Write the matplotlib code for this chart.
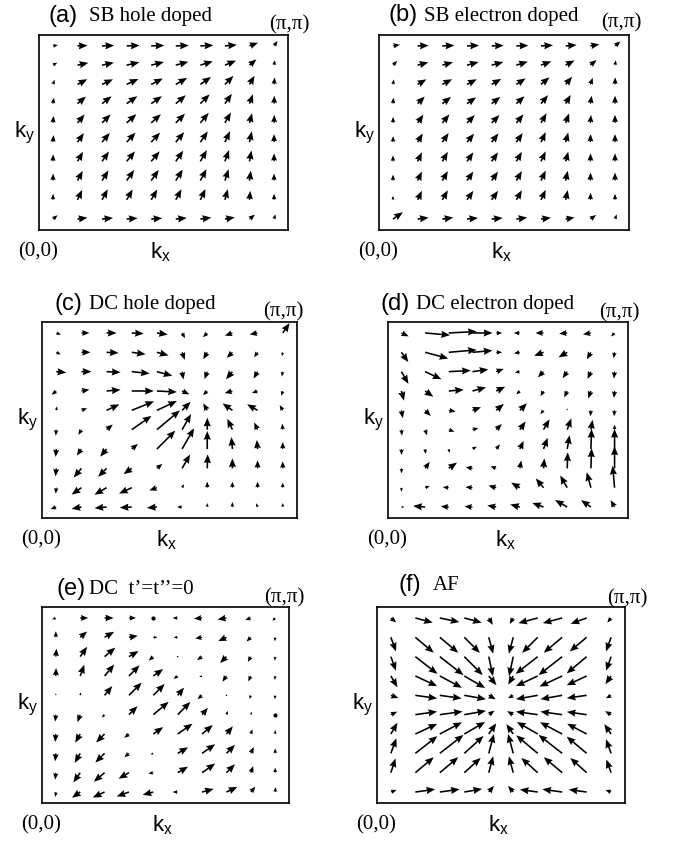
import numpy as np
import matplotlib
matplotlib.use('Agg')
import matplotlib.pyplot as plt

plt.rcParams['mathtext.default'] = 'regular'
SANS = ['Liberation Sans', 'DejaVu Sans']
SERIF = ['Liberation Serif', 'DejaVu Serif']

# ---------------- data: arrow angle (deg) and length (px), rows top -> bottom ----------------
a_ang = [[10, 2, 2, 2, 2, 2, 3, 5, 20, 55],
         [30, 12, 12, 13, 14, 15, 17, 22, 40, 80],
         [70, 28, 25, 25, 27, 30, 35, 45, 60, 85],
         [80, 40, 38, 35, 35, 40, 45, 55, 70, 88],
         [85, 50, 45, 42, 42, 45, 50, 60, 75, 88],
         [85, 55, 50, 47, 47, 50, 55, 65, 78, 90],
         [88, 60, 55, 50, 50, 55, 60, 70, 80, 90],
         [88, 62, 58, 55, 55, 58, 62, 72, 82, 90],
         [88, 65, 62, 60, 60, 62, 65, 75, 85, 90],
         [40, 8, 6, 5, 5, 6, 8, 10, 40, 75]]
a_len = [[5, 10, 12, 13, 13, 13, 13, 12, 9, 6],
         [5, 11, 12, 13, 13, 13, 13, 12, 9, 5],
         [5, 11, 12, 13, 13, 13, 13, 12, 10, 7],
         [6, 11, 12, 13, 13, 13, 13, 12, 10, 8],
         [7, 11, 12, 13, 13, 13, 13, 12, 10, 8],
         [7, 11, 12, 13, 13, 13, 13, 12, 11, 8],
         [7, 11, 12, 13, 13, 13, 13, 12, 11, 8],
         [7, 11, 12, 13, 13, 13, 13, 12, 10, 7],
         [6, 11, 12, 12, 12, 12, 12, 11, 9, 6],
         [6, 10, 11, 11, 11, 11, 11, 10, 7, 5]]

b_ang = [[10, 2, 2, 2, 2, 2, 3, 5, 10, 40],
         [45, 15, 15, 15, 15, 17, 20, 28, 40, 80],
         [80, 30, 28, 28, 30, 33, 40, 50, 70, 88],
         [85, 45, 38, 35, 38, 42, 50, 60, 80, 90],
         [88, 55, 50, 45, 45, 50, 60, 70, 85, 90],
         [88, 60, 55, 50, 52, 55, 65, 75, 88, 90],
         [90, 65, 60, 55, 55, 60, 65, 75, 88, 90],
         [90, 65, 60, 55, 55, 60, 65, 78, 88, 90],
         [90, 65, 60, 55, 55, 60, 65, 78, 88, 90],
         [35, 8, 8, 6, 6, 8, 8, 10, 35, 70]]
b_len = [[7, 11, 12, 12, 12, 12, 12, 11, 9, 7],
         [6, 11, 11, 12, 12, 12, 11, 10, 8, 5],
         [5, 10, 11, 11, 11, 11, 11, 10, 7, 7],
         [6, 10, 11, 11, 11, 11, 11, 10, 8, 8],
         [6, 10, 11, 11, 11, 11, 11, 10, 8, 8],
         [6, 10, 11, 11, 11, 11, 11, 10, 8, 8],
         [6, 10, 11, 11, 11, 11, 11, 10, 8, 8],
         [6, 10, 11, 11, 11, 11, 11, 10, 8, 8],
         [4, 10, 11, 11, 11, 11, 11, 10, 7, 6],
         [12, 11, 11, 11, 11, 11, 10, 9, 7, 5]]

c_ang = [[-20, 0, 0, -3, -8, -60, 225, 200, 190, 55],
         [-25, 0, -3, -8, -15, -70, 240, 225, 235, 260],
         [-5, 0, -3, -6, -15, -80, 250, 230, 240, 260],
         [220, 10, 5, 0, -3, -25, 225, 195, 200, 255],
         [80, 20, 25, 22, 25, 45, 120, 145, 150, 120],
         [265, 240, 40, 35, 40, 60, 90, 115, 115, 95],
         [265, 235, 230, 40, 45, 60, 90, 95, 95, 90],
         [265, 230, 225, 215, 40, 60, 88, 90, 90, 90],
         [265, 215, 210, 205, 200, 60, 90, 90, 90, 90],
         [200, 190, 185, 183, 185, 180, 90, 90, 110, 90]]
c_len = [[5, 8, 10, 12, 11, 6, 6, 8, 8, 12],
         [5, 9, 12, 14, 12, 8, 8, 8, 6, 4],
         [10, 10, 14, 18, 16, 8, 8, 10, 8, 5],
         [6, 8, 14, 22, 20, 8, 6, 8, 6, 5],
         [4, 6, 14, 24, 22, 12, 8, 12, 12, 6],
         [6, 6, 8, 24, 30, 18, 12, 12, 8, 6],
         [8, 8, 10, 8, 26, 24, 18, 12, 9, 7],
         [8, 12, 12, 10, 7, 16, 14, 10, 8, 7],
         [6, 12, 14, 14, 8, 4, 6, 6, 6, 5],
         [6, 10, 12, 12, 10, 5, 4, 5, 4, 4]]

d_ang = [[-25, -5, 3, 0, 0, 180, 180, 185, 190, 225],
         [-55, -15, 5, 5, 0, 190, 200, 210, 240, 260],
         [-60, -25, 3, 8, 20, 190, 225, 235, 245, 265],
         [-75, -35, 5, 15, 25, 225, 240, 245, 250, 265],
         [-80, -45, -10, 20, 40, 45, 230, 90, 265, 265],
         [-85, -70, -20, 15, 45, 55, 60, 70, 80, 90],
         [-88, -85, -80, 30, 50, 65, 70, 80, 88, 90],
         [-88, 55, 35, 170, 160, 80, 85, 88, 88, 90],
         [-90, 20, 175, 175, 165, 150, 130, 120, 105, 95],
         [0, 175, 175, 175, 170, 165, 160, 150, 145, 120]]
d_len = [[8, 25, 28, 20, 6, 6, 8, 8, 8, 5],
         [12, 24, 28, 20, 6, 6, 10, 10, 8, 6],
         [14, 18, 22, 16, 8, 5, 8, 8, 8, 7],
         [10, 10, 15, 14, 10, 5, 6, 7, 8, 7],
         [8, 8, 7, 9, 10, 10, 5, 2, 6, 6],
         [6, 6, 6, 6, 8, 10, 12, 12, 10, 5],
         [6, 5, 4, 5, 6, 9, 12, 14, 20, 20],
         [5, 8, 10, 7, 6, 8, 10, 16, 20, 22],
         [4, 5, 6, 7, 8, 10, 12, 14, 16, 22],
         [3, 12, 8, 8, 9, 10, 12, 14, 12, 8]]

e_ang = [[200, 0, 0, 0, 0, 180, 185, 190, 200, 225],
         [90, 40, 30, 10, 0, 180, 190, 205, 225, 265],
         [85, 55, 40, 30, 220, 0, 215, 225, 240, 265],
         [88, 70, 50, 45, 35, 215, 200, 235, 245, 265],
         [90, 80, 50, 45, 45, 50, 220, 0, 250, 265],
         [265, 250, 225, 45, 40, 45, 50, 70, 70, 0],
         [265, 240, 225, 220, 35, 35, 40, 50, 70, 90],
         [265, 240, 225, 220, 200, 30, 35, 45, 65, 90],
         [265, 235, 220, 210, 190, 30, 35, 45, 70, 90],
         [265, 215, 205, 200, 195, 180, 15, 25, 50, 85]]
e_len = [[4, 8, 9, 7, 0, 5, 8, 9, 6, 4],
         [6, 9, 11, 9, 4, 4, 7, 9, 6, 4],
         [8, 12, 14, 11, 6, 1, 6, 9, 6, 4],
         [8, 12, 15, 15, 12, 5, 3, 7, 6, 4],
         [2, 3, 12, 18, 16, 10, 6, 1, 4, 4],
         [7, 8, 4, 12, 20, 18, 9, 4, 3, 0],
         [8, 10, 12, 6, 12, 18, 14, 10, 5, 4],
         [8, 11, 13, 6, 3, 12, 16, 12, 7, 5],
         [7, 12, 14, 12, 5, 12, 16, 12, 7, 5],
         [5, 10, 13, 13, 11, 5, 12, 12, 7, 5]]

f_ang = [[-40, -15, -12, -15, -60, 240, 195, 195, 200, 230],
         [-70, -40, -40, -45, -75, 255, 225, 220, 220, 250],
         [-70, -38, -38, -45, -78, 258, 218, 218, 220, 250],
         [-60, -25, -28, -30, -50, 240, 205, 205, 205, 235],
         [-20, -8, -8, -10, -30, 210, 190, 190, 188, 210],
         [25, 8, 8, 10, 35, 150, 172, 172, 172, 150],
         [60, 25, 28, 30, 55, 125, 150, 152, 152, 125],
         [70, 38, 38, 42, 75, 105, 140, 142, 140, 110],
         [72, 40, 40, 42, 75, 105, 138, 140, 138, 110],
         [20, 8, 8, 10, 50, 130, 172, 172, 172, 160]]
f_len = [[7, 18, 20, 18, 8, 7, 20, 20, 17, 6],
         [15, 24, 24, 22, 17, 17, 22, 24, 22, 15],
         [15, 28, 30, 26, 20, 20, 28, 30, 26, 15],
         [13, 24, 25, 24, 12, 10, 24, 25, 22, 10],
         [8, 22, 22, 22, 8, 6, 22, 22, 20, 6],
         [7, 22, 23, 22, 7, 7, 22, 22, 20, 7],
         [13, 24, 25, 24, 13, 12, 24, 25, 22, 12],
         [16, 28, 30, 26, 20, 20, 28, 30, 26, 15],
         [15, 24, 24, 22, 17, 17, 22, 24, 22, 14],
         [6, 20, 20, 18, 8, 8, 18, 20, 18, 6]]

tags = ['(a)', '(b)', '(c)', '(d)', '(e)', '(f)']
titles = ['SB hole doped', 'SB electron doped', 'DC hole doped',
          'DC electron doped', 'DC  t\u2019=t\u2019\u2019=0', 'AF']

# ---------------- layout (pixels) ----------------
W, H = 674, 842
fig = plt.figure(figsize=(W / 100, H / 100), dpi=100)

boxes = [(39, 35, 288, 230), (379, 35, 629, 230),
         (42, 322, 297, 518), (388, 322, 628, 518),
         (42, 607, 289, 803), (377, 607, 625, 803)]
tag_x = [48, 388, 55, 381, 56, 398]
txt_x = [89, 424, 89, 416, 89, 433]
tit_y = [16, 15, 304, 304, 589, 585]
pp_x = [289, 621, 283, 619, 284, 627]
pp_y = [25, 23, 312, 313, 598, 599]

N = 10
g = np.linspace(0, 1, N)
X, Y = np.meshgrid(g, g[::-1])
M = 0.063


def fx(x):
    return x / W


def fy(y):
    return 1 - y / H


def draw(ax, ang, ln):
    a = np.radians(np.array(ang, float))
    L = np.array(ln, float)
    U = L * np.cos(a)
    V = L * np.sin(a)
    m = L > 0
    ax.quiver(X[m], Y[m], U[m], V[m], angles='uv', scale_units='inches',
              scale=100, pivot='tail', units='inches', width=0.016,
              headwidth=4.5, headlength=5.5, headaxislength=5.0, minshaft=1.1,
              color='black')
    if (~m).any():
        ax.scatter(X[~m], Y[~m], s=9, c='black', linewidths=0)
    ax.set_xlim(-M, 1 + M)
    ax.set_ylim(-M, 1 + M)
    ax.set_xticks([])
    ax.set_yticks([])
    for s in ax.spines.values():
        s.set_linewidth(1.2)


data = [(a_ang, a_len), (b_ang, b_len), (c_ang, c_len),
        (d_ang, d_len), (e_ang, e_len), (f_ang, f_len)]

for i, ((x0, y0, x1, y1), (ang, ln)) in enumerate(zip(boxes, data)):
    ax = fig.add_axes([fx(x0), fy(y1), (x1 - x0) / W, (y1 - y0) / H])
    draw(ax, ang, ln)
    fig.text(fx(tag_x[i]), fy(tit_y[i]), tags[i], family=SANS, fontsize=17,
             ha='left', va='center')
    fig.text(fx(txt_x[i]), fy(tit_y[i] + 1), titles[i], family=SERIF,
             fontsize=15, ha='left', va='center')
    fig.text(fx(pp_x[i]), fy(pp_y[i]), '(\u03c0,\u03c0)', family=SERIF,
             fontsize=15, ha='center', va='center')
    fig.text(fx(x0 - 4), fy((y0 + y1) / 2), r'$k_y$', family=SANS,
             fontsize=16, ha='right', va='center')
    fig.text(fx(x0 - 1), fy(y1 + 22), '(0,0)', family=SERIF, fontsize=15,
             ha='center', va='center')
    fig.text(fx((x0 + x1) / 2 - 3), fy(y1 + 22), r'$k_x$', family=SANS,
             fontsize=16, ha='center', va='center')

fig.savefig('out.png', dpi=100, facecolor='white')
